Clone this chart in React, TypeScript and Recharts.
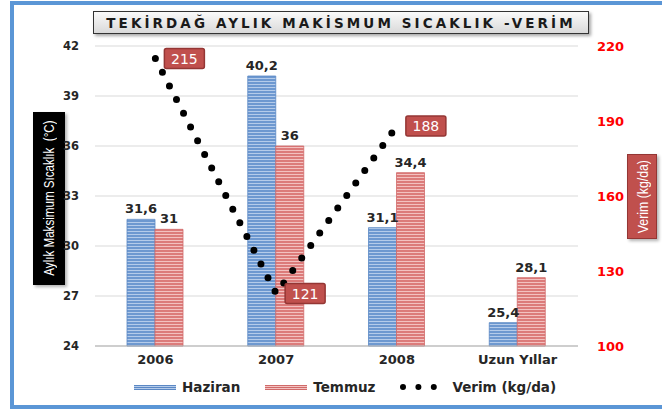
import React from "react";
import {
  ComposedChart, Bar, Line, XAxis, YAxis, CartesianGrid, LabelList,
} from "recharts";

const categories = ["2006", "2007", "2008", "Uzun Yıllar"];
const haziran = [31.6, 40.2, 31.1, 25.4];
const temmuz = [31, 36, 34.4, 28.1];
const verim: (number | null)[] = [215, 121, 188, null];
const leftTicks = [24, 27, 30, 33, 36, 39, 42];
const rightTicks = [100, 130, 160, 190, 220];

const data = categories.map((c, i) => ({
  name: c,
  haziran: haziran[i],
  temmuz: temmuz[i],
  verim: verim[i],
}));

const FONT = "'DejaVu Sans', Verdana, sans-serif";
const NARROW = "'Liberation Sans', Arial, sans-serif";
const fmt = (v: any) => String(v).replace(".", ",");

const VerimLabel = (props: any) => {
  const { x, y, value } = props;
  if (value == null) return null;
  const w = 40, h = 20;
  const bx = x + 9, by = y - h / 2;
  return (
    <g>
      <rect x={bx} y={by} width={w} height={h} rx={2} fill="#c0504d" stroke="#943634" strokeWidth={1.5} />
      <text x={bx + w / 2} y={by + h / 2 + 5} textAnchor="middle" fill="#fff" fontSize={14} fontFamily={FONT}>
        {value}
      </text>
    </g>
  );
};

export default function App() {
  return (
    <div style={{ position: "absolute", left: 0, top: 0, width: 662, height: 410, background: "#fff", overflow: "hidden", fontFamily: FONT }}>
      {/* frame */}
      <div style={{ position: "absolute", left: 10, top: 1, width: 652, height: 4, background: "#5b96d6" }} />
      <div style={{ position: "absolute", left: 10, top: 1, width: 4, height: 406, background: "#5b96d6" }} />
      <div style={{ position: "absolute", left: 10, top: 405, width: 652, height: 4, background: "#5b96d6" }} />

      {/* title */}
      <div style={{
        position: "absolute", left: 93, top: 11, width: 494, height: 21, border: "1px solid #333",
        background: "linear-gradient(#fafafa, #d9d9d9)", boxShadow: "2px 2px 3px rgba(0,0,0,0.35)",
        display: "flex", alignItems: "center", justifyContent: "center",
        fontWeight: "bold", fontSize: 13.5, letterSpacing: 3.1, color: "#1a1a1a", whiteSpace: "nowrap",
      }}>
        TEKİRDAĞ AYLIK MAKİSMUM SICAKLIK -VERİM
      </div>

      {/* left axis label */}
      <div style={{
        position: "absolute", left: 33, top: 112, width: 32, height: 173, background: "#000",
        boxShadow: "2px 2px 3px rgba(0,0,0,0.3)", display: "flex", alignItems: "center", justifyContent: "center",
      }}>
        <div style={{ writingMode: "vertical-rl", transform: "rotate(180deg) scale(1, 0.8)", color: "#fff", fontFamily: NARROW, fontSize: 14.5, whiteSpace: "nowrap" }}>
          Aylık Maksimum Sıcaklık&nbsp; (°C)
        </div>
      </div>

      {/* right axis label */}
      <div style={{
        position: "absolute", left: 627, top: 154, width: 30, height: 85, background: "#c0504d",
        border: "1px solid #943634", boxSizing: "border-box",
        boxShadow: "2px 2px 3px rgba(0,0,0,0.3)", display: "flex", alignItems: "center", justifyContent: "center",
      }}>
        <div style={{ writingMode: "vertical-rl", transform: "rotate(180deg) scale(1, 0.82)", color: "#fff", fontFamily: NARROW, fontSize: 15, whiteSpace: "nowrap" }}>
          Verim (kg/da)
        </div>
      </div>

      <div style={{ position: "absolute", left: 0, top: 0 }}>
        <ComposedChart width={662} height={410} data={data}
          margin={{ top: 46, right: 24, bottom: 34, left: 35 }} barGap={0}>
          <defs>
            <pattern id="blueStripe" width="4" height="3" patternUnits="userSpaceOnUse">
              <rect width="4" height="3" fill="#6d98d0" />
              <rect width="4" height="1" fill="#b4cbea" />
            </pattern>
            <pattern id="redStripe" width="4" height="3" patternUnits="userSpaceOnUse">
              <rect width="4" height="3" fill="#dc7b7a" />
              <rect width="4" height="1" fill="#f3c1c0" />
            </pattern>
          </defs>
          <CartesianGrid vertical={false} stroke="#d9d9d9" yAxisId="left" />
          <XAxis dataKey="name" axisLine={{ stroke: "#b0b0b0" }} tickLine={false} tickSize={0} tickMargin={9}
            tick={{ fontSize: 13, fontWeight: "bold", fill: "#262626", fontFamily: FONT }} height={30} />
          <YAxis yAxisId="left" domain={[24, 42]} ticks={leftTicks} width={60} axisLine={false} tickLine={false}
            tickSize={0} tickMargin={16} tick={{ fontSize: 11.5, fontWeight: "bold", fill: "#262626", fontFamily: FONT }} />
          <YAxis yAxisId="right" orientation="right" domain={[100, 220]} ticks={rightTicks} width={60} axisLine={false}
            tickLine={false} tickSize={0} tickMargin={19}
            tick={{ fontSize: 13, fontWeight: "bold", fill: "#ff0000", fontFamily: FONT, textAnchor: "start" }} />
          <Bar yAxisId="left" dataKey="haziran" barSize={28} fill="url(#blueStripe)" stroke="#5b88c4" strokeWidth={0.8} isAnimationActive={false}>
            <LabelList dataKey="haziran" position="top" offset={6} formatter={fmt}
              style={{ fontSize: 13, fontWeight: "bold", fill: "#262626", fontFamily: FONT }} />
          </Bar>
          <Bar yAxisId="left" dataKey="temmuz" barSize={28} fill="url(#redStripe)" stroke="#d06a69" strokeWidth={0.8} isAnimationActive={false}>
            <LabelList dataKey="temmuz" position="top" offset={6} formatter={fmt}
              style={{ fontSize: 13, fontWeight: "bold", fill: "#262626", fontFamily: FONT }} />
          </Bar>
          <Line yAxisId="right" dataKey="verim" stroke="#000" strokeWidth={7} strokeDasharray="0 15.4"
            strokeLinecap="round" dot={false} activeDot={false} isAnimationActive={false} type="linear">
            <LabelList dataKey="verim" content={<VerimLabel />} />
          </Line>
        </ComposedChart>
      </div>

      {/* legend */}
      <div style={{ position: "absolute", left: 134, top: 378, height: 18, display: "flex", alignItems: "center", fontSize: 13.5, fontWeight: "bold", color: "#262626", whiteSpace: "nowrap" }}>
        <div style={{ width: 42, height: 5, background: "repeating-linear-gradient(#5b88c4 0 1px, #b4cbea 1px 2px)" }} />
        <span style={{ marginLeft: 6 }}>Haziran</span>
        <div style={{ width: 42, height: 5, marginLeft: 25, background: "repeating-linear-gradient(#d06a69 0 1px, #f3c1c0 1px 2px)" }} />
        <span style={{ marginLeft: 6 }}>Temmuz</span>
        <svg width={40} height={10} style={{ marginLeft: 24 }}>
          <line x1={4} y1={5} x2={36} y2={5} stroke="#000" strokeWidth={6} strokeDasharray="0 15.4" strokeLinecap="round" />
        </svg>
        <span style={{ marginLeft: 13 }}>Verim (kg/da)</span>
      </div>
    </div>
  );
}
